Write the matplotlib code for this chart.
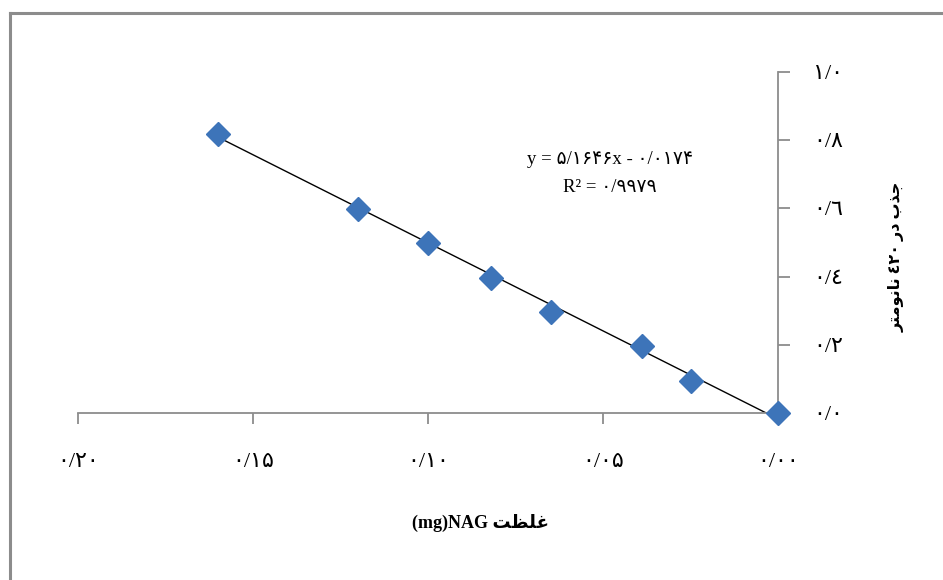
import matplotlib
matplotlib.use("Agg")
import matplotlib.pyplot as plt
from matplotlib.lines import Line2D
import numpy as np

# ---- data ----
conc = [0.160, 0.120, 0.100, 0.082, 0.065, 0.039, 0.025, 0.000]
absorb = [0.818, 0.598, 0.498, 0.395, 0.296, 0.196, 0.095, 0.000]
slope = 5.1646
intercept = -0.0174
x_ticks = [0.20, 0.15, 0.10, 0.05, 0.00]
x_tick_labels = ["۰/۲۰", "۰/۱۵", "۰/۱۰", "۰/۰۵", "۰/۰۰"]
y_ticks = [0.0, 0.2, 0.4, 0.6, 0.8, 1.0]
y_tick_labels = ["۰/۰", "۰/۲", "۰/٤", "۰/٦", "۰/۸", "۱/۰"]
eq_text = "y = ۵/۱۶۴۶x - ۰/۰۱۷۴"
r2_text = "R² = ۰/۹۹۷۹"
# visual-order shaped Persian text
xlabel_text = "(mg)NAG " + "\uFE96\uFEC8\uFEE0\uFECF"
ylabel_text = ("\uFEAE\uFE98\uFEE3\uFEEE\uFEE7\uFE8E\uFEE7 \u0664\u0662\u0660 "
               "\uFEAD\uFEA9 \uFE8F\uFEAC\uFE9F")

fam = ["Liberation Serif", "DejaVu Sans"]
gray = "#8c8c8c"

fig = plt.figure(figsize=(9.43, 5.80), dpi=100)
ax = fig.add_axes([78/943, 1-413/580, 700/943, 341/580])

# trendline
xl = np.array([max(conc), min(conc)])
ax.plot(xl, slope*xl + intercept, color="black", lw=1.0, zorder=2)
# points
ax.plot(conc, absorb, linestyle="none", marker="D", markersize=12.5,
        color="#3D74B9", markeredgecolor="#3D74B9", clip_on=False, zorder=3)

ax.set_xlim(0.20, 0.0)
ax.set_ylim(0.0, 1.0)

for s in ["top", "left"]:
    ax.spines[s].set_visible(False)
for s in ["bottom", "right"]:
    ax.spines[s].set_color(gray)
    ax.spines[s].set_linewidth(1.3)

ax.yaxis.tick_right()
ax.set_xticks(x_ticks)
ax.set_xticklabels(x_tick_labels, family=fam, fontsize=16)
ax.set_yticks(y_ticks)
ax.set_yticklabels(y_tick_labels, family=fam, fontsize=16)
ax.tick_params(axis="x", direction="out", length=8, width=1.3, color=gray, pad=21)
ax.tick_params(axis="y", direction="out", length=8.5, width=1.3, color=gray, pad=17)

# equation
fig.text(610/943, 1-160/580, eq_text, family=fam, fontsize=13.5,
         ha="center", va="center")
fig.text(610/943, 1-188/580, r2_text, family=fam, fontsize=13.5,
         ha="center", va="center")

# axis titles
fig.text(481/943, 1-523/580, xlabel_text, family=fam, fontsize=13,
         fontweight="bold", ha="center", va="center")
fig.text(897/943, 1-257/580, ylabel_text, family=fam, fontsize=11.5,
         fontweight="bold", ha="center", va="center", rotation=90)

# outer frame (top and left visible)
fig.add_artist(Line2D([10/943, 10/943], [0, 1-13/580], color=gray, lw=2.2,
                      transform=fig.transFigure))
fig.add_artist(Line2D([10/943, 1], [1-13/580, 1-13/580], color=gray, lw=2.2,
                      transform=fig.transFigure))

fig.savefig("out.png", dpi=100)
